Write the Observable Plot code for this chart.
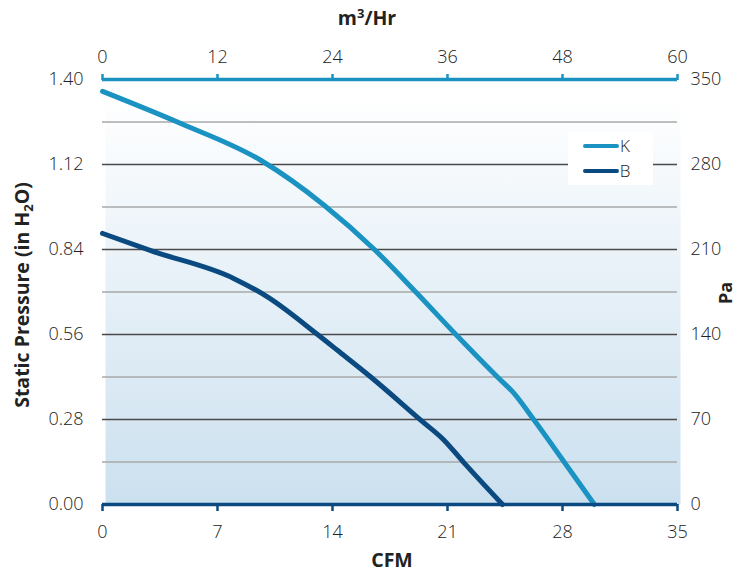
<!DOCTYPE html>
<html>
<head>
<meta charset="utf-8">
<script src="https://cdn.jsdelivr.net/npm/d3@7"></script>
<script src="https://cdn.jsdelivr.net/npm/@observablehq/plot@0.6"></script>
<style>
  html, body { margin: 0; padding: 0; background: #fff; }
  #chart { width: 739px; height: 572px; }
</style>
</head>
<body>
<div id="chart"></div>
<script>
// ---- data ----
const cfmTicks = [0, 7, 14, 21, 28, 35];
const m3hTicks = [0, 12, 24, 36, 48, 60];
const inTicks = [0, 0.28, 0.56, 0.84, 1.12, 1.40];
const paTicks = [0, 70, 140, 210, 280, 350];
const minorGrid = [0.14, 0.42, 0.70, 0.98, 1.26];

const kCfm = [0, 4.77, 9.63, 13.49, 16.55, 19.07, 21.51, 24.04, 25.05, 26.27, 28.10, 29.94];
const kIn  = [1.361, 1.255, 1.134, 0.986, 0.840, 0.700, 0.560, 0.420, 0.366, 0.278, 0.140, 0];
const bCfm = [0, 2.94, 8.01, 10.04, 13.09, 14.30, 16.33, 19.37, 20.79, 22.01, 24.35];
const bIn  = [0.893, 0.836, 0.744, 0.684, 0.560, 0.508, 0.420, 0.278, 0.212, 0.137, 0];

const seriesNames = ["K", "B"];
const colorK = "#1a93c2";
const colorB = "#0b4a80";

const kData = kCfm.map((x, i) => ({x, y: kIn[i]}));
const bData = bCfm.map((x, i) => ({x, y: bIn[i]}));

const font = "'Open Sans', sans-serif";
const W = 739, H = 572;

const plot = Plot.plot({
  width: W,
  height: H,
  marginLeft: 102,
  marginRight: 62,
  marginTop: 79,
  marginBottom: 68,
  style: {fontFamily: font, fontSize: "18px", fontWeight: 300, color: "#222", background: "transparent"},
  x: {domain: [0, 35]},
  y: {domain: [0, 1.4]},
  marks: [
    Plot.frame({fill: "url(#bgGrad)", stroke: null, insetLeft: 3, insetRight: -3, insetTop: 14}),
    Plot.ruleY(minorGrid, {stroke: "#a9a9a9", strokeWidth: 1.5}),
    Plot.ruleY(inTicks.filter(d => d > 0 && d < 1.4), {stroke: "#4a4a4a", strokeWidth: 1.5}),
    Plot.line(kData, {x: "x", y: "y", stroke: colorK, strokeWidth: 5, curve: "monotone-x"}),
    Plot.line(bData, {x: "x", y: "y", stroke: colorB, strokeWidth: 5, curve: "monotone-x"}),
    // bottom axis (CFM)
    Plot.ruleY([0], {stroke: colorB, strokeWidth: 3.5}),
    Plot.axisX(cfmTicks, {anchor: "bottom", tickSize: 7, tickPadding: 14, stroke: colorB, strokeWidth: 2.5, fill: "#222", label: null}),
    // top axis (m3/Hr)
    Plot.ruleY([1.4], {stroke: colorK, strokeWidth: 3.5}),
    Plot.axisX(m3hTicks.map(m => m * 35 / 60), {anchor: "top", tickSize: 6, tickPadding: 11, stroke: colorK, strokeWidth: 2.5, fill: "#222",
      tickFormat: d => String(Math.round(d * 60 / 35)), label: null}),
    // left axis (in H2O)
    Plot.axisY(inTicks, {anchor: "left", tickSize: 0, tickPadding: 19, fill: "#222", tickFormat: d => d.toFixed(2), label: null}),
    // right axis (Pa)
    Plot.axisY(paTicks.map(p => p / 250), {anchor: "right", tickSize: 0, tickPadding: 13, fill: "#222",
      tickFormat: d => String(Math.round(d * 250)), label: null})
  ]
});

const svg = d3.select(plot);
const defs = svg.insert("defs", ":first-child");
const grad = defs.append("linearGradient").attr("id", "bgGrad").attr("x1", 0).attr("y1", 0).attr("x2", 0).attr("y2", 1);
grad.append("stop").attr("offset", "0%").attr("stop-color", "#ffffff");
grad.append("stop").attr("offset", "100%").attr("stop-color", "#cbe0ef");

const titleFont = "'Open Sans', sans-serif";
const tSize = 19.5;
// top title
const t1 = svg.append("text").attr("x", 367).attr("y", 25).attr("text-anchor", "middle")
  .attr("font-family", titleFont).attr("font-weight", 700).attr("font-size", tSize).attr("fill", "#222");
t1.append("tspan").text("m");
t1.append("tspan").attr("dy", -7).attr("font-size", 13).text("3");
t1.append("tspan").attr("dy", 7).text("/Hr");
// bottom title
svg.append("text").attr("x", 392).attr("y", 567).attr("text-anchor", "middle")
  .attr("font-family", titleFont).attr("font-weight", 700).attr("font-size", tSize).attr("fill", "#222").text("CFM");
// left title
const t3 = svg.append("text").attr("transform", "translate(29,295) rotate(-90)").attr("text-anchor", "middle")
  .attr("font-family", titleFont).attr("font-weight", 700).attr("font-size", tSize).attr("fill", "#222");
t3.append("tspan").text("Static Pressure (in H");
t3.append("tspan").attr("dy", 4).attr("font-size", 13).text("2");
t3.append("tspan").attr("dy", -4).text("O)");
// right title
svg.append("text").attr("transform", "translate(732,293) rotate(-90)").attr("text-anchor", "middle")
  .attr("font-family", titleFont).attr("font-weight", 700).attr("font-size", 18).attr("fill", "#222").text("Pa");

// legend
const lg = svg.append("g");
lg.append("rect").attr("x", 568).attr("y", 132).attr("width", 85).attr("height", 53).attr("fill", "#ffffff");
const legendColors = [colorK, colorB];
seriesNames.forEach((name, i) => {
  const yy = 146 + i * 25;
  lg.append("line").attr("x1", 585).attr("x2", 617).attr("y1", yy).attr("y2", yy)
    .attr("stroke", legendColors[i]).attr("stroke-width", 4).attr("stroke-linecap", "round");
  lg.append("text").attr("x", 625).attr("y", yy).attr("dy", "0.36em")
    .attr("font-family", font).attr("font-weight", 300).attr("font-size", 17).attr("fill", "#222").text(name);
});

document.getElementById("chart").appendChild(plot);
</script>
</body>
</html>
